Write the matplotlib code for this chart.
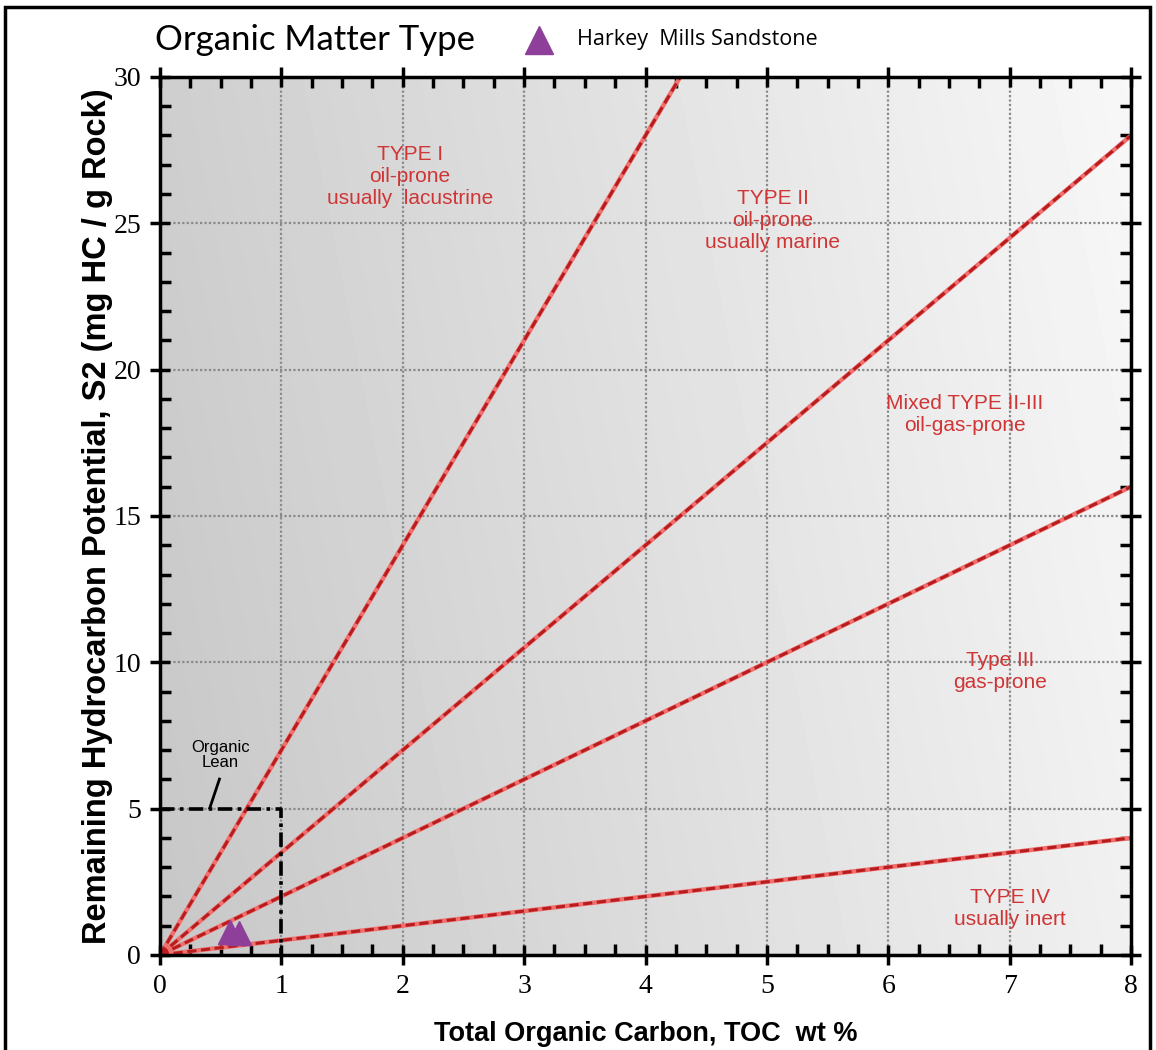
import numpy as np
import matplotlib
matplotlib.use("Agg")
import matplotlib.pyplot as plt
from matplotlib.patches import Rectangle
from matplotlib.ticker import MultipleLocator

# ---- data ----
line_slopes = [7.0, 3.5, 2.0, 0.5]          # S2/TOC boundaries (HI/100)
x_max, y_max = 8, 30
sample_toc = [0.58, 0.65]
sample_s2 = [0.80, 0.75]
lean_toc = 1.0
lean_s2 = 5.0
zone_labels = ["TYPE I\noil-prone\nusually  lacustrine",
               "TYPE II\noil-prone\nusually marine",
               "Mixed TYPE II-III\noil-gas-prone",
               "Type III\ngas-prone",
               "TYPE IV\nusually inert"]
zone_label_pos = [(2.06, 26.6), (5.05, 25.1), (6.63, 18.45), (6.92, 9.67), (7.0, 1.6)]
x_ticks = [0, 1, 2, 3, 4, 5, 6, 7, 8]
y_ticks = [0, 5, 10, 15, 20, 25, 30]

fig = plt.figure(figsize=(11.56, 10.5), dpi=100)
ax = fig.add_axes([0.1384, 0.0905, 0.840, 0.8362])

# gradient background
grad = np.linspace(0, 1, 256)
gx, gy = np.meshgrid(grad, grad)
val = 0.78 + 0.19 * (0.85 * gx + 0.15 * gy)
ax.imshow(val, extent=[0, x_max, 0, y_max], origin="lower", cmap="gray",
          vmin=0, vmax=1, aspect="auto", zorder=0, interpolation="bicubic")

ax.set_xlim(0, x_max)
ax.set_ylim(0, y_max)

# grid
ax.set_xticks(x_ticks)
ax.set_yticks(y_ticks)
ax.xaxis.set_minor_locator(MultipleLocator(0.25))
ax.yaxis.set_minor_locator(MultipleLocator(1))
ax.grid(True, which="major", color="#8a8a8a", linestyle=(0, (1, 1)), linewidth=1.6, zorder=1)

# boundary lines
xs = np.array([0, x_max])
for s in line_slopes:
    ax.plot(xs, s * xs, color="#f07070", lw=3.2, zorder=3, solid_capstyle="butt")
    ax.plot(xs, s * xs, color="#b81c1c", lw=2.2, linestyle=(0, (3, 1.5)), zorder=4)

# organic lean box
ax.plot([0, lean_toc, lean_toc], [lean_s2, lean_s2, 0], color="black", lw=2.6,
        linestyle=(0, (4, 1.5, 1, 1.5)), zorder=5)
ax.plot([0.41, 0.49], [5.02, 6.01], color="black", lw=2, zorder=5)
ax.text(0.5, 6.83, "Organic\nLean", ha="center", va="center", fontsize=12,
        family="Liberation Sans", color="black", linespacing=1.05, zorder=6)

# sample
ax.plot(sample_toc, sample_s2, linestyle="none", marker="^", ms=17,
        color="#8e3f9a", mec="#8e3f9a", zorder=7, clip_on=False)

# zone labels
for lab, (x, y) in zip(zone_labels, zone_label_pos):
    ax.text(x, y, lab, ha="center", va="center", fontsize=15, color="#d03535",
            family="Liberation Sans", linespacing=1.2, zorder=6)

# ticks
ax.tick_params(which="major", direction="inout", length=15, width=2.5,
               top=True, right=True, labelsize=20, pad=6)
ax.tick_params(which="minor", direction="in", length=8, width=2.5, top=True, right=True)
for sp in ax.spines.values():
    sp.set_linewidth(2.5)
    sp.set_zorder(8)
ax.set_xticklabels([str(v) for v in x_ticks], family="Liberation Serif", fontsize=20)
ax.set_yticklabels([str(v) for v in y_ticks], family="Liberation Serif", fontsize=20)

ax.set_xlabel("Total Organic Carbon, TOC  wt %", fontsize=19.5, fontweight="bold",
              family="Liberation Sans", labelpad=16)
ax.set_ylabel("Remaining Hydrocarbon Potential, S2 (mg HC / g Rock)", fontsize=23.5,
              fontweight="bold", family="Liberation Sans", labelpad=0)

# title and legend
fig.text(155 / 1156, 1 - 40 / 1050, "Organic Matter Type", fontsize=25,
         family="Lato", va="center", ha="left")
fig.lines.append(plt.Line2D([539 / 1156], [1 - 40 / 1050], marker="^", ms=20,
                            color="#8e3f9a", transform=fig.transFigure, linestyle="none"))
fig.text(577 / 1156, 1 - 40 / 1050, "Harkey  Mills Sandstone", fontsize=15.5,
         family="Open Sans", va="center", ha="left")

# outer border
fig.patches.append(Rectangle((5 / 1156, -0.01), 1145 / 1156, 1 - 7 / 1050 + 0.01,
                             transform=fig.transFigure, fill=False, lw=2.5,
                             edgecolor="black"))

fig.savefig("out.png", dpi=100, facecolor="white")
